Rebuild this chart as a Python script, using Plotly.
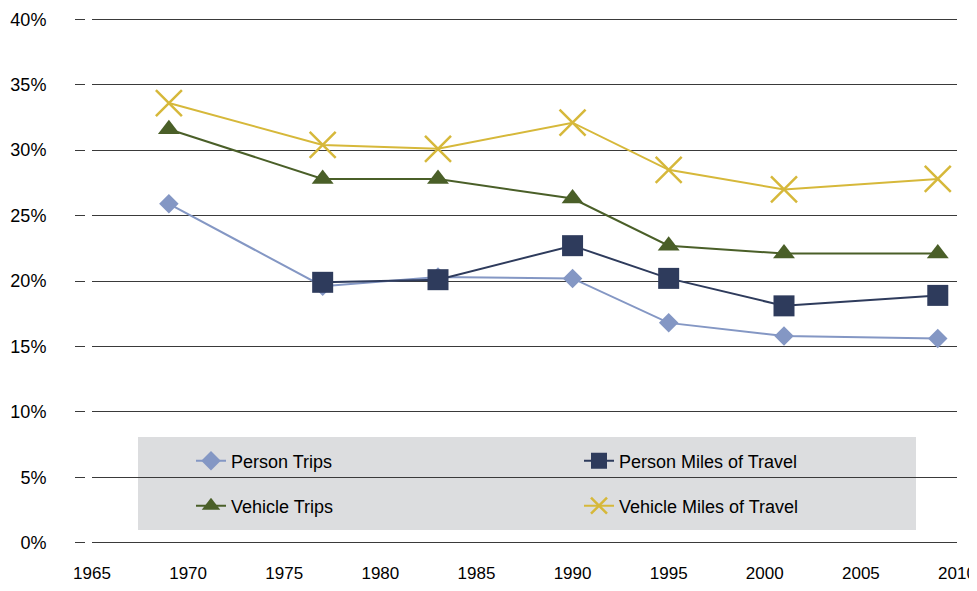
import plotly.graph_objects as go

years = [1969, 1977, 1983, 1990, 1995, 2001, 2009]
person_trips = [25.9, 19.6, 20.3, 20.2, 16.8, 15.8, 15.6]
person_miles = [None, 19.9, 20.1, 22.7, 20.2, 18.1, 18.9]
vehicle_trips = [31.6, 27.8, 27.8, 26.3, 22.7, 22.1, 22.1]
vehicle_miles = [33.6, 30.4, 30.1, 32.1, 28.5, 27.0, 27.8]

x_ticks = [1965, 1970, 1975, 1980, 1985, 1990, 1995, 2000, 2005, 2010]
y_ticks = [0, 5, 10, 15, 20, 25, 30, 35, 40]
y_tick_labels = [f"{v}%" for v in y_ticks]

FONT = "Liberation Sans Narrow, Liberation Sans, Arial, sans-serif"

fig = go.Figure()
fig.add_trace(go.Scatter(
    x=years, y=person_trips, name="Person Trips", mode="lines+markers",
    line=dict(color="#8497C4", width=2),
    marker=dict(symbol="diamond", size=15, color="#8497C4"),
    legend="legend"))
fig.add_trace(go.Scatter(
    x=years, y=person_miles, name="Person Miles of Travel", mode="lines+markers",
    line=dict(color="#2E3B5C", width=2),
    marker=dict(symbol="square", size=21, color="#2E3B5C"),
    legend="legend2"))
fig.add_trace(go.Scatter(
    x=years, y=vehicle_trips, name="Vehicle Trips", mode="lines+markers",
    line=dict(color="#4A5F28", width=2),
    marker=dict(symbol="triangle-up", size=19, color="#4A5F28"),
    legend="legend3"))
fig.add_trace(go.Scatter(
    x=years, y=vehicle_miles, name="Vehicle Miles of Travel", mode="lines+markers",
    line=dict(color="#D6B83A", width=2),
    marker=dict(symbol="x-thin-open", size=26, line=dict(color="#D6B83A", width=2.5)),
    legend="legend4"))

# page body adds an 8px offset; work in div pixels
W, H = 969, 575
ML, MR, MT, MB = 84, 20, 10, 39
pw = W - ML - MR
ph = H - MT - MB

def px_x(p):
    return (p - ML) / pw

def px_y(p):
    return (H - MB - p) / ph

legend_common = dict(
    orientation="h", bgcolor="rgba(0,0,0,0)",
    font=dict(family=FONT, size=18, color="#000"),
    xanchor="left", yanchor="middle",
    itemclick=False, itemdoubleclick=False)

fig.update_layout(
    width=W, height=H,
    margin=dict(l=ML, r=MR, t=MT, b=MB, autoexpand=False),
    paper_bgcolor="white", plot_bgcolor="white",
    font=dict(family=FONT, size=18, color="#000"),
    xaxis=dict(range=[1965, 2010], tickvals=x_ticks, automargin=False,
               showgrid=False, zeroline=False, showline=False, ticks="",
               ticklabelstandoff=17, ticklabeloverflow="allow",
               tickfont=dict(size=17)),
    yaxis=dict(range=[-0.1, 40.1], tickvals=y_ticks, ticktext=y_tick_labels,
               automargin=False,
               showgrid=True, gridcolor="#3a3a3a", gridwidth=1,
               zeroline=False, showline=False,
               ticks="outside", ticklen=16, tickcolor="#3a3a3a", tickwidth=1,
               ticklabelstandoff=25, tickfont=dict(size=18)),
    legend=dict(x=px_x(183), y=px_y(453), **legend_common),
    legend2=dict(x=px_x(571), y=px_y(453), **legend_common),
    legend3=dict(x=px_x(183), y=px_y(498), **legend_common),
    legend4=dict(x=px_x(571), y=px_y(498), **legend_common),
    shapes=[
        dict(type="rect", xref="paper", yref="paper",
             x0=px_x(130), x1=px_x(908), y0=px_y(522), y1=px_y(429),
             fillcolor="#DCDDDF", line=dict(width=0), layer="below"),
        dict(type="rect", xref="paper", yref="paper",
             x0=px_x(ML - 7), x1=px_x(ML), y0=-0.02, y1=1.02,
             fillcolor="white", line=dict(width=0), layer="above"),
    ],
    showlegend=True,
)

fig.write_html("out.html")
